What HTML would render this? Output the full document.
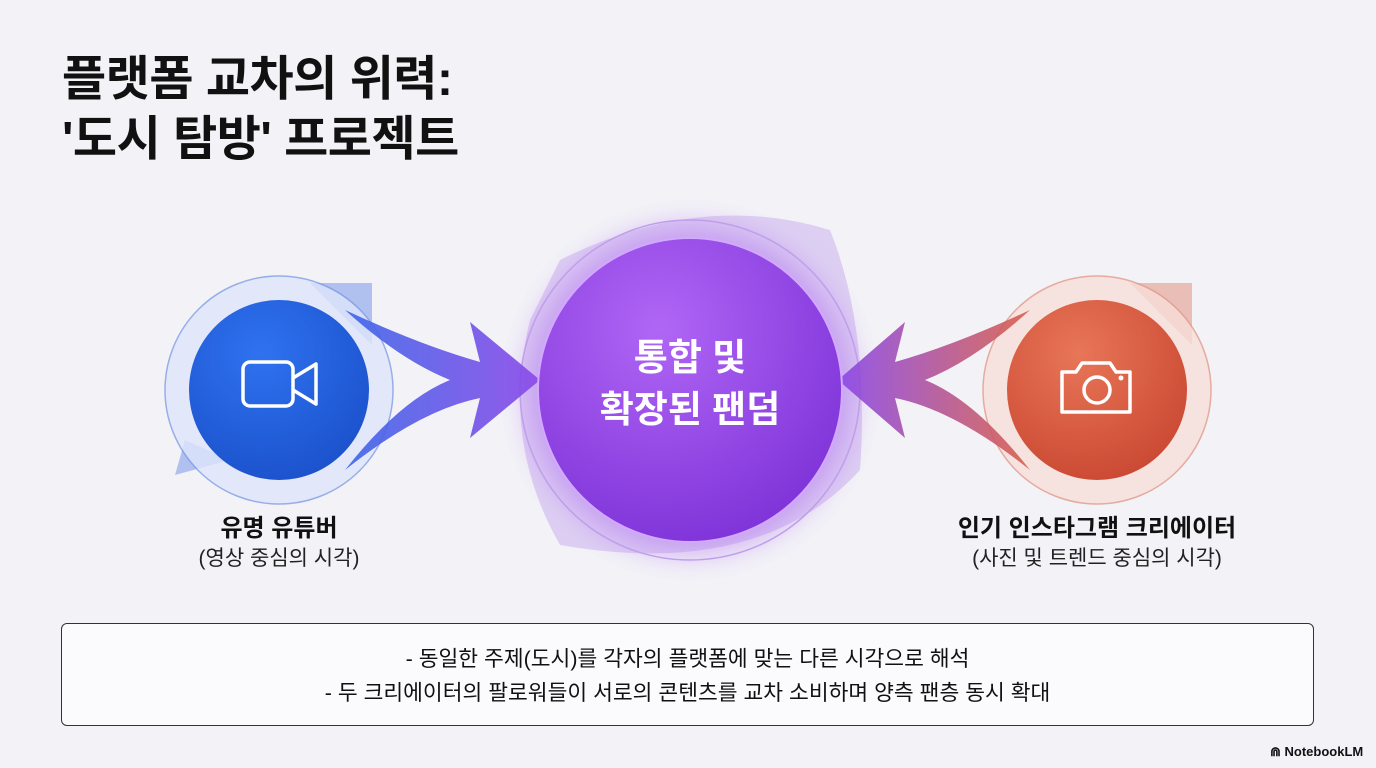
<!DOCTYPE html>
<html><head><meta charset="utf-8"><style>
body{margin:0;width:1376px;height:768px;background:#f3f3f7;font-family:"Liberation Sans","Noto Sans CJK KR",sans-serif;position:relative;overflow:hidden;color:#111}
.t{position:absolute;left:62px;top:50px;font-size:48px;font-weight:bold;line-height:60px;letter-spacing:-0.5px}
.lbl{position:absolute;text-align:center;width:400px}
.lbl b{display:block;font-size:24px;line-height:30px}
.lbl span{display:block;font-size:21px;line-height:30px;color:#222}
.box{position:absolute;left:61px;top:623px;width:1253px;height:103px;border:1px solid #333;border-radius:6px;background:#fbfbfd;text-align:center;font-size:21.5px;line-height:34px;padding-top:18px;box-sizing:border-box}
</style></head><body>
<div class="t">플랫폼 교차의 위력:<br>'도시 탐방' 프로젝트</div>
<svg width="1376" height="768" style="position:absolute;left:0;top:0">
<defs>
<radialGradient id="pg" cx="0.4" cy="0.3" r="0.8"><stop offset="0" stop-color="#b066f5"/><stop offset="1" stop-color="#7a2fd6"/></radialGradient>
<radialGradient id="bg" cx="0.4" cy="0.3" r="0.8"><stop offset="0" stop-color="#2f72f0"/><stop offset="1" stop-color="#1a4fc9"/></radialGradient>
<radialGradient id="rg" cx="0.4" cy="0.3" r="0.8"><stop offset="0" stop-color="#e87658"/><stop offset="1" stop-color="#c8452f"/></radialGradient>
<linearGradient id="al" x1="0" x2="1"><stop offset="0" stop-color="#3d66e8"/><stop offset="1" stop-color="#8a48e8"/></linearGradient>
<linearGradient id="ar" x1="1" x2="0"><stop offset="0" stop-color="#d9604c"/><stop offset="1" stop-color="#8a48e8"/></linearGradient>
<filter id="gl"><feGaussianBlur stdDeviation="14"/></filter>
</defs>
<path d="M560 260 Q700 190 830 230 Q870 330 860 470 Q760 580 560 545 Q500 440 530 320Z" fill="#b58be8" opacity="0.35"/>
<circle cx="690" cy="390" r="170" fill="none" stroke="#c4a9ea" stroke-width="1.5"/>
<circle cx="690" cy="390" r="165" fill="#b070f0" opacity="0.5" filter="url(#gl)"/>
<polygon points="310,283 372,283 372,345" fill="#6f8fe8" opacity="0.5"/>
<polygon points="175,475 230,460 185,440" fill="#6f8fe8" opacity="0.5"/>
<circle cx="279" cy="390" r="114" fill="#dfe6fb" stroke="#7f9ee6" stroke-width="1.5" opacity="0.8"/>
<polygon points="1130,283 1192,283 1192,345" fill="#e08a78" opacity="0.5"/>
<circle cx="1097" cy="390" r="114" fill="#f7ded8" stroke="#e29a8a" stroke-width="1.5" opacity="0.8"/>
<path d="M345 310 Q420 345 480 362 L470 322 L540 380 L470 438 L480 398 Q420 410 345 470 Q400 400 450 380 Q400 360 345 310Z" fill="url(#al)" opacity="0.9"/>
<path d="M1030 310 Q955 345 895 362 L905 322 L838 380 L905 438 L895 398 Q955 410 1030 470 Q975 400 925 380 Q975 360 1030 310Z" fill="url(#ar)" opacity="0.9"/>
<circle cx="279" cy="390" r="90" fill="url(#bg)"/>
<circle cx="1097" cy="390" r="90" fill="url(#rg)"/>
<circle cx="690" cy="390" r="152" fill="url(#pg)" stroke="#d3a8ff" stroke-width="2"/>
<rect x="243" y="362" width="50" height="44" rx="7" fill="none" stroke="#fff" stroke-width="3.5"/>
<path d="M293 378 L316 364 V404 L293 390" fill="none" stroke="#fff" stroke-width="3.5" stroke-linejoin="round"/>
<path d="M1062 372 h14 l6 -9 h28 l6 9 h14 v40 h-68z" fill="none" stroke="#fff" stroke-width="3.5" stroke-linejoin="round"/>
<circle cx="1097" cy="390" r="13" fill="none" stroke="#fff" stroke-width="3.5"/>
<circle cx="1121" cy="378" r="2.5" fill="#fff"/>
<text x="690" y="370" text-anchor="middle" fill="#fff" font-size="37" font-weight="bold">통합 및</text>
<text x="690" y="422" text-anchor="middle" fill="#fff" font-size="37" font-weight="bold">확장된 팬덤</text>
</svg>
<div class="lbl" style="left:79px;top:514px"><b>유명 유튜버</b><span>(영상 중심의 시각)</span></div>
<div class="lbl" style="left:897px;top:514px"><b>인기 인스타그램 크리에이터</b><span>(사진 및 트렌드 중심의 시각)</span></div>
<div class="box">- 동일한 주제(도시)를 각자의 플랫폼에 맞는 다른 시각으로 해석<br>- 두 크리에이터의 팔로워들이 서로의 콘텐츠를 교차 소비하며 양측 팬층 동시 확대</div>
<div style="position:absolute;left:1270px;top:744px;font-size:13px;font-weight:bold">⋒ NotebookLM</div>
</body></html>
